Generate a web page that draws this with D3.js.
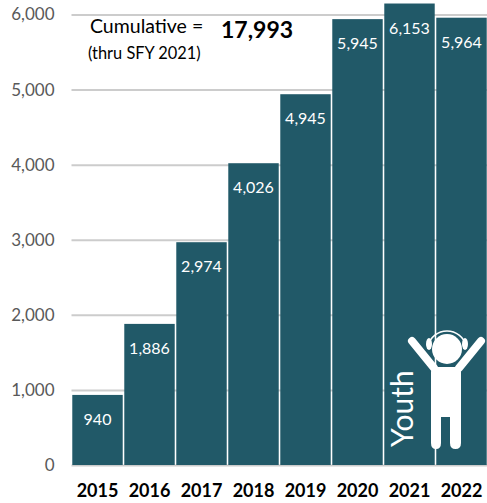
<!DOCTYPE html>
<html><head><meta charset="utf-8">
<script src="https://cdn.jsdelivr.net/npm/d3@7/dist/d3.min.js"></script>
<style>html,body{margin:0;padding:0;background:#fff}svg{display:block}text{font-family:Carlito,Calibri,Lato,sans-serif}</style>
</head><body><svg id="c" width="487" height="503"></svg>
<script>
const years = ["2015","2016","2017","2018","2019","2020","2021","2022"];
const youth = [940,1886,2974,4026,4945,5945,6153,5964];
const yTicks = [0,1000,2000,3000,4000,5000,6000];
const svg = d3.select("#c");
const x = d3.scaleBand().domain(years).range([71.5,487.5]).paddingInner(0.03).paddingOuter(0.015);
const y = d3.scaleLinear().domain([0,6000]).range([465,14.5]);
const fmt = d3.format(",");

const gy = svg.append("g").attr("transform","translate(71.5,0)")
  .call(d3.axisLeft(y).tickValues(yTicks).tickFormat(fmt).tickSize(0).tickPadding(17));
gy.select(".domain").remove();
gy.selectAll("line").attr("x2",416).attr("stroke","#cccccc").attr("stroke-width",2);
gy.selectAll("text").attr("fill","#595959").style("font-size","17px").style("font-family","Lato");

const gx = svg.append("g").attr("transform","translate(0,465)")
  .call(d3.axisBottom(x).tickSize(0).tickPadding(19));
gx.select(".domain").remove();
gx.selectAll("text").attr("fill","#000").style("font-size","18px").style("font-weight","700").style("font-family","Lato");

svg.selectAll("rect.bar").data(youth).join("rect").attr("class","bar")
  .attr("x",(d,i)=>x(years[i])).attr("width",x.bandwidth())
  .attr("y",d=>y(d)+0.5).attr("height",d=>y(0)-y(d)-0.5).attr("fill","#215968");

svg.selectAll("text.val").data(youth).join("text").attr("class","val")
  .attr("x",(d,i)=>x(years[i])+x.bandwidth()/2).attr("y",d=>y(d)+30.5)
  .attr("text-anchor","middle").attr("fill","#fff")
  .style("font-family","Lato").style("font-size","16px").text(d=>fmt(d));

svg.append("text").attr("x",90).attr("y",33).attr("fill","#000").style("font-family","Lato").style("font-size","19.5px").text("Cumulative =");
svg.append("text").attr("x",221).attr("y",38).attr("fill","#000").style("font-family","Lato").style("font-size","23px").style("font-weight","700").text("17,993");
svg.append("text").attr("x",88).attr("y",59).attr("fill","#000").style("font-family","Lato").style("font-size","16.4px").text("(thru SFY 2021)");

svg.append("text").attr("transform","translate(413,447) rotate(-90)").attr("fill","#fff")
  .style("font-family","Lato").style("font-size","30px").text("Youth");

const icon = svg.append("g").attr("fill","#fff");
icon.append("path").attr("d","M431 372 Q431 367 436 367 H456 Q461 367 461 372 V443 Q461 449 455.5 449 Q450 449 450 443 V417 H441 V443 Q441 449 436 449 Q431 449 431 443 Z");
icon.append("circle").attr("cx",447).attr("cy",349).attr("r",15);
icon.append("path").attr("d","M412 341 L434 368 M481 341 L459 368").attr("stroke","#fff").attr("stroke-width",8).attr("stroke-linecap","round").attr("fill","none");
icon.append("path").attr("d","M428 346 A19.5 19.5 0 0 1 466 346").attr("stroke","#fff").attr("stroke-width",1.5).attr("fill","none");
icon.append("ellipse").attr("cx",429).attr("cy",344).attr("rx",3).attr("ry",6);
icon.append("ellipse").attr("cx",465).attr("cy",344).attr("rx",3).attr("ry",6);
</script></body></html>
